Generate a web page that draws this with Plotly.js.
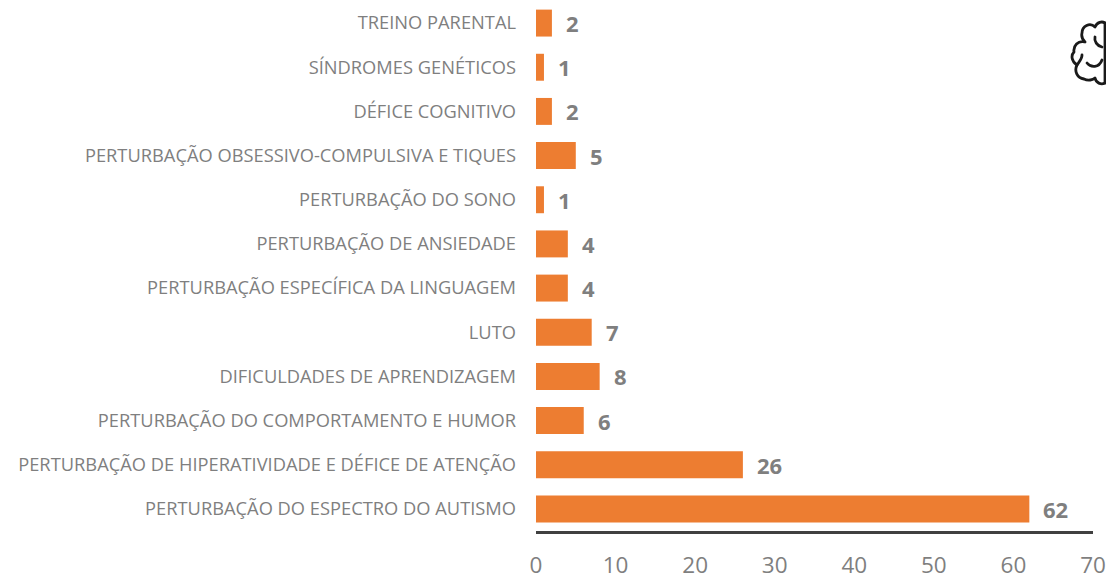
<!DOCTYPE html>
<html>
<head>
<meta charset="utf-8">
<script src="https://cdn.plot.ly/plotly-3.0.1.min.js"></script>
<style>
html,body{margin:0;padding:0;background:#fff;overflow:hidden}
#wrap{position:relative;width:1106px;height:576px}
#chart{width:1106px;height:576px}
#brain{position:absolute;left:1068px;top:18px}
</style>
</head>
<body>
<div id="wrap">
<div id="chart"></div>
<svg id="brain" width="38" height="70" viewBox="0 0 38 70" fill="none" stroke="#1a1a1a" stroke-width="2.8" stroke-linecap="round" stroke-linejoin="round">
<path d="M37 5 V65"/>
<path d="M37 5 C34 3 29 4 27 9 C22 4 14 8 14 15 C13 19 15 22 17 24 C10 22 5 28 6 34 C3 37 3 43 9 47 C6 53 9 60 16 61 C20 63 25 62 27 60 C28 65 33 67 37 65"/>
<path d="M9 47 C11 44 14 41 14 37"/>
<path d="M27 19 C26 23 29 28 34 29"/>
<path d="M19 45 C23 50 31 50 34 42"/>
</svg>
</div>
<script>
var categories = [
  "PERTURBAÇÃO DO ESPECTRO DO AUTISMO",
  "PERTURBAÇÃO DE HIPERATIVIDADE E DÉFICE DE ATENÇÃO",
  "PERTURBAÇÃO DO COMPORTAMENTO E HUMOR",
  "DIFICULDADES DE APRENDIZAGEM",
  "LUTO",
  "PERTURBAÇÃO ESPECÍFICA DA LINGUAGEM",
  "PERTURBAÇÃO DE ANSIEDADE",
  "PERTURBAÇÃO DO SONO",
  "PERTURBAÇÃO OBSESSIVO-COMPULSIVA E TIQUES",
  "DÉFICE COGNITIVO",
  "SÍNDROMES GENÉTICOS",
  "TREINO PARENTAL"
];
var values = [62, 26, 6, 8, 7, 4, 4, 1, 5, 2, 1, 2];
var xTicks = [0, 10, 20, 30, 40, 50, 60, 70];

var font = "'Open Sans', sans-serif";
var grey = "#7f7f7f";

var trace = {
  type: "bar",
  orientation: "h",
  x: values,
  y: categories,
  width: 0.61,
  marker: {color: "#ed7d31"},
  hoverinfo: "skip"
};

var labels = categories.map(function (c, i) {
  return {
    x: values[i], y: c, xref: "x", yref: "y",
    text: String(values[i]), showarrow: false,
    xanchor: "left", xshift: 12, yshift: 0,
    font: {family: font, size: 22, color: grey, weight: 700}
  };
});

var layout = {
  width: 1106, height: 576,
  paper_bgcolor: "#fff", plot_bgcolor: "#fff",
  margin: {l: 536, r: 13, t: 1, b: 44.5, pad: 0},
  showlegend: false,
  xaxis: {
    range: [0, 70], tickvals: xTicks, ticks: "", showgrid: false, zeroline: false,
    showline: true, linecolor: "#404040", linewidth: 3,
    tickfont: {family: font, size: 22.5, color: grey},
    ticklabelstandoff: 12, fixedrange: true
  },
  yaxis: {
    type: "category", categoryorder: "array", categoryarray: categories,
    range: [-0.5, 11.5], ticks: "", showgrid: false, zeroline: false, showline: false,
    tickfont: {family: font, size: 18.3, color: grey},
    ticklabelstandoff: 19, fixedrange: true
  },
  annotations: labels
};

Plotly.newPlot("chart", [trace], layout, {displayModeBar: false, staticPlot: true});
</script>
</body>
</html>
